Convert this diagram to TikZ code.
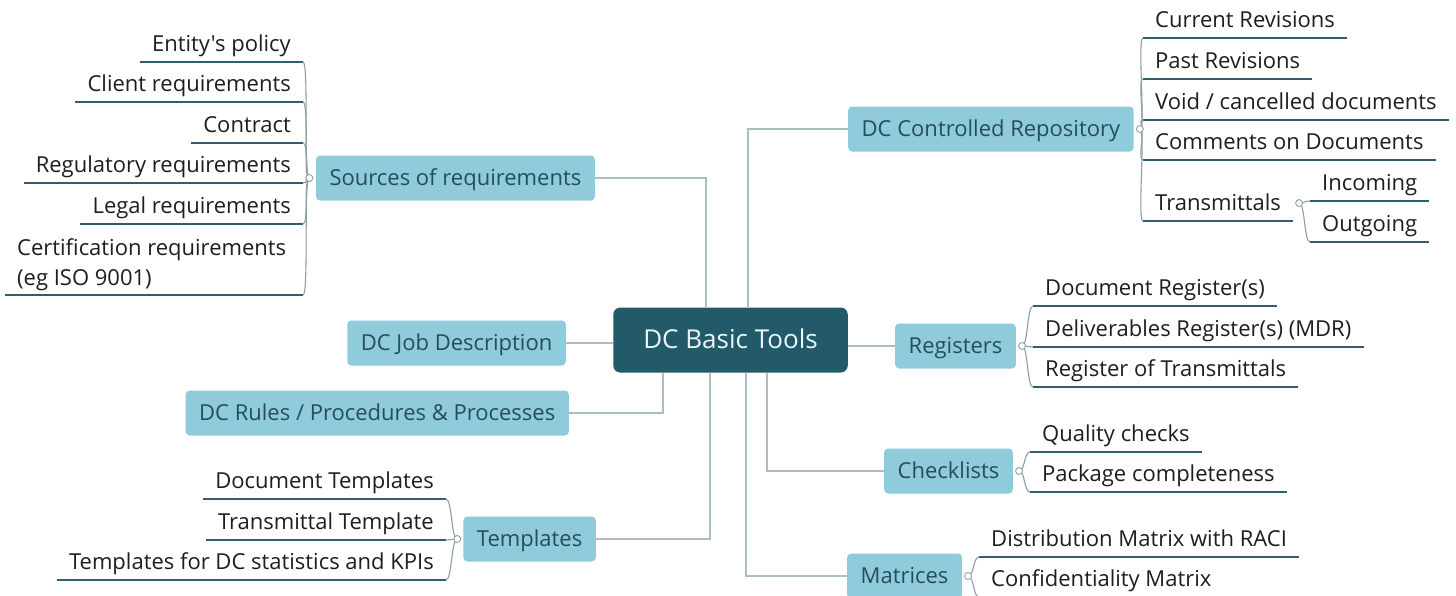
\documentclass[tikz,border=0pt]{standalone}
\usepackage{fontspec}
\setmainfont{Open Sans}[Ligatures=TeXOff]
\definecolor{boxfill}{RGB}{143,203,219}
\definecolor{boxtext}{RGB}{36,78,94}
\definecolor{corefill}{RGB}{34,90,105}
\definecolor{coretext}{RGB}{236,246,248}
\definecolor{leaftext}{RGB}{30,30,30}
\definecolor{ulinec}{RGB}{48,94,110}
\definecolor{connc}{RGB}{172,190,197}
\definecolor{bracec}{RGB}{140,158,166}
\tikzset{
 core/.style={fill=corefill, text=coretext, rounded corners=7pt, minimum height=65pt, inner xsep=30pt, inner ysep=0pt, font=\fontsize{26}{30}\selectfont, text height=20pt, text depth=4pt},
 topic/.style={fill=boxfill, text=boxtext, rounded corners=4pt, minimum height=45pt, inner xsep=13.5pt, inner ysep=0pt, font=\fontsize{22}{26}\selectfont, text height=16pt, text depth=2pt},
 leaf/.style={text=leaftext, inner xsep=12pt, inner ysep=5.5pt, font=\fontsize{22}{26}\selectfont, text height=15.5pt, text depth=5pt},
 leafml/.style={text=leaftext, inner xsep=12pt, inner ysep=4.3pt, align=left, font=\fontsize{22}{30}\selectfont},
 ul/.style={draw=ulinec, line width=2.8pt},
 conn/.style={draw=connc, line width=2pt},
 brace/.style={draw=bracec, line width=1.1pt},
 knob/.style={circle, draw=bracec, fill=white, line width=0.9pt, minimum size=7pt, inner sep=0pt},
}
\begin{document}
\begin{tikzpicture}[x=1pt,y=-1pt]
\useasboundingbox[fill=white] (0,0) rectangle (1456,595);
\clip (0,0) rectangle (1456,595);

% central and main topics
\node[core] (c) at (730.5,340) {DC Basic Tools};
\node[topic, anchor=east] (src) at (595,178) {Sources of requirements};
\node[topic, anchor=east] (job) at (566,343) {DC Job Description};
\node[topic, anchor=east] (rul) at (569,413) {DC Rules / Procedures \& Processes};
\node[topic, anchor=east] (tpl) at (596,539) {Templates};
\node[topic, anchor=west] (rep) at (848,129) {DC Controlled Repository};
\node[topic, anchor=west] (reg) at (895,346) {Registers};
\node[topic, anchor=west] (chk) at (884,471) {Checklists};
\node[topic, anchor=west] (mat) at (847,576) {Matrices};

% connectors from central
\draw[conn] ([xshift=-24.5pt]c.north) |- (src.east);
\draw[conn] ([xshift=17.5pt]c.north) |- (rep.west);
\draw[conn] (job.east) -- (job.east -| c.west);
\draw[conn] ([xshift=-67.5pt]c.south) |- (rul.east);
\draw[conn] ([xshift=-20.5pt]c.south) |- (tpl.east);
\draw[conn] ([xshift=15.5pt]c.south) |- (mat.west);
\draw[conn] ([xshift=36.5pt]c.south) |- (chk.west);
\draw[conn] (reg.west -| c.east) -- (reg.west);

% ---- Sources leaves
\node[leaf, anchor=south east] (s1) at (303,62) {Entity's policy};
\node[leaf, anchor=south east] (s2) at (303,102) {Client requirements};
\node[leaf, anchor=south east] (s3) at (303,143) {Contract};
\node[leaf, anchor=south east] (s4) at (303,183) {Regulatory requirements};
\node[leaf, anchor=south east] (s5) at (303,224) {Legal requirements};
\node[leafml, anchor=south west] (s6) at (5,295) {Certification requirements\\(eg ISO 9001)};
\coordinate (s6e) at (303,295);
\foreach \n in {s1,s2,s3,s4,s5} \draw[ul] (\n.south west) -- (\n.south east);
\draw[ul] (s6.south west) -- (s6e);
\coordinate (sk) at ([xshift=-6.5pt]src.west);
\foreach \n in {s1,s2,s3,s4,s5} \draw[brace] (sk) .. controls +(-6,0) and +(6,0) .. (\n.south east);
\draw[brace] (sk) .. controls +(-6,0) and +(6,0) .. (s6e);
\node[knob] at (sk) {};

% ---- Templates leaves
\node[leaf, anchor=south east] (t1) at (446,499) {Document Templates};
\node[leaf, anchor=south east] (t2) at (446,540) {Transmittal Template};
\node[leaf, anchor=south east] (t3) at (446,580) {Templates for DC statistics and KPIs};
\foreach \n in {t1,t2,t3} \draw[ul] (\n.south west) -- (\n.south east);
\coordinate (tk) at ([xshift=-6pt]tpl.west);
\foreach \n in {t1,t2,t3} \draw[brace] (tk) .. controls +(-6,0) and +(6,0) .. (\n.south east);
\node[knob] at (tk) {};

% ---- Repository leaves
\node[leaf, anchor=south west] (r1) at (1143,38) {Current Revisions};
\node[leaf, anchor=south west] (r2) at (1143,79) {Past Revisions};
\node[leaf, anchor=south west] (r3) at (1143,120) {Void / cancelled documents};
\node[leaf, anchor=south west] (r4) at (1143,160) {Comments on Documents};
\node[leaf, anchor=south west] (r5) at (1143,221) {Transmittals};
\node[leaf, anchor=south west] (r6) at (1310,201) {Incoming};
\node[leaf, anchor=south west] (r7) at (1310,242) {Outgoing};
\foreach \n in {r1,r2,r3,r4,r5,r6,r7} \draw[ul] (\n.south west) -- (\n.south east);
\coordinate (rk) at ([xshift=6pt]rep.east);
\foreach \n in {r1,r2,r3,r4,r5} \draw[brace] (rk) .. controls +(6,0) and +(-6,0) .. (\n.south west);
\node[knob] at (rk) {};
\coordinate (xk) at ([xshift=6pt,yshift=2pt]r5.east);
\foreach \n in {r6,r7} \draw[brace] (xk) .. controls +(6,0) and +(-6,0) .. (\n.south west);
\node[knob] at (xk) {};

% ---- Registers leaves
\node[leaf, anchor=south west] (g1) at (1033,306) {Document Register(s)};
\node[leaf, anchor=south west] (g2) at (1033,347) {Deliverables Register(s) (MDR)};
\node[leaf, anchor=south west] (g3) at (1033,387) {Register of Transmittals};
\foreach \n in {g1,g2,g3} \draw[ul] (\n.south west) -- (\n.south east);
\coordinate (gk) at ([xshift=6pt]reg.east);
\foreach \n in {g1,g2,g3} \draw[brace] (gk) .. controls +(6,0) and +(-6,0) .. (\n.south west);
\node[knob] at (gk) {};

% ---- Checklists leaves
\node[leaf, anchor=south west] (k1) at (1030,452) {Quality checks};
\node[leaf, anchor=south west] (k2) at (1030,492) {Package completeness};
\foreach \n in {k1,k2} \draw[ul] (\n.south west) -- (\n.south east);
\coordinate (kk) at ([xshift=6pt]chk.east);
\foreach \n in {k1,k2} \draw[brace] (kk) .. controls +(6,0) and +(-6,0) .. (\n.south west);
\node[knob] at (kk) {};

% ---- Matrices leaves
\node[leaf, anchor=south west] (m1) at (979,557) {Distribution Matrix with RACI};
\node[leaf, anchor=south west] (m2) at (979,597) {Confidentiality Matrix};
\foreach \n in {m1,m2} \draw[ul] (\n.south west) -- (\n.south east);
\coordinate (mk) at ([xshift=6pt]mat.east);
\foreach \n in {m1,m2} \draw[brace] (mk) .. controls +(6,0) and +(-6,0) .. (\n.south west);
\node[knob] at (mk) {};
\end{tikzpicture}
\end{document}
